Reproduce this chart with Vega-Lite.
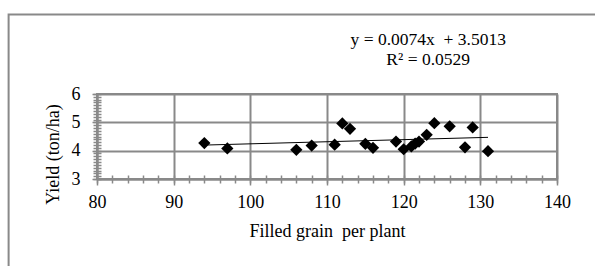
{
  "$schema": "https://vega.github.io/schema/vega-lite/v6.json",
  "width": 460,
  "height": 85,
  "autosize": {"type": "none"},
  "padding": {"left": 97, "top": 94, "right": 38, "bottom": 87},
  "background": "white",
  "datasets": {
    "points": [
      {"grain": 94, "yield": 4.27},
      {"grain": 97, "yield": 4.08},
      {"grain": 106, "yield": 4.03},
      {"grain": 108, "yield": 4.18},
      {"grain": 111, "yield": 4.21},
      {"grain": 112, "yield": 4.96},
      {"grain": 113, "yield": 4.77},
      {"grain": 115, "yield": 4.24},
      {"grain": 116, "yield": 4.1},
      {"grain": 119, "yield": 4.32},
      {"grain": 120, "yield": 4.05},
      {"grain": 121, "yield": 4.15},
      {"grain": 121.5, "yield": 4.25},
      {"grain": 122, "yield": 4.32},
      {"grain": 123, "yield": 4.56},
      {"grain": 124, "yield": 4.97},
      {"grain": 126, "yield": 4.86},
      {"grain": 128, "yield": 4.12},
      {"grain": 129, "yield": 4.82},
      {"grain": 131, "yield": 3.98}
    ],
    "trend": [
      {"grain": 94, "yield": 4.1969},
      {"grain": 131, "yield": 4.4707}
    ],
    "one": [{}]
  },
  "config": {
    "font": "Liberation Serif",
    "view": {"stroke": "#898989", "strokeWidth": 2},
    "axis": {
      "labelFont": "Liberation Serif",
      "titleFont": "Liberation Serif",
      "labelFontSize": 18,
      "titleFontSize": 18,
      "labelColor": "black",
      "titleColor": "black",
      "titleFontWeight": "normal",
      "labelFlush": false,
      "labelOverlap": false,
      "domainColor": "#898989",
      "domainWidth": 2,
      "tickColor": "#898989",
      "tickWidth": 1.5,
      "gridColor": "#898989",
      "gridWidth": 2,
      "gridOpacity": 1,
      "domainOpacity": 1,
      "tickOpacity": 1
    }
  },
  "layer": [
    {
      "data": {"name": "one"},
      "mark": {"type": "rect", "fillOpacity": 0, "stroke": "#898989", "strokeWidth": 2, "clip": false},
      "encoding": {
        "x": {"datum": 68.47, "type": "quantitative", "scale": {"domain": [80, 140], "nice": false, "zero": false}, "axis": null},
        "x2": {"datum": 150},
        "y": {"datum": 8.81, "type": "quantitative", "scale": {"domain": [3, 6], "nice": false, "zero": false}, "axis": null},
        "y2": {"datum": -2}
      }
    },
    {
      "data": {"name": "points"},
      "mark": {"type": "point", "shape": "diamond", "filled": true, "color": "black", "opacity": 1, "size": 150},
      "encoding": {
        "x": {
          "field": "grain", "type": "quantitative",
          "scale": {"domain": [80, 140], "nice": false, "zero": false},
          "axis": {"orient": "bottom", "values": [80, 90, 100, 110, 120, 130, 140], "title": "Filled grain\u00a0 per plant", "grid": true, "tickSize": 6, "labelPadding": 8, "titlePadding": 11}
        },
        "y": {
          "field": "yield", "type": "quantitative",
          "scale": {"domain": [3, 6], "nice": false, "zero": false},
          "axis": {"orient": "left", "values": [3, 4, 5, 6], "title": "Yield (ton/ha)", "grid": true, "tickSize": 5, "labelPadding": 12, "titlePadding": 9, "titleY": 60}
        }
      }
    },
    {
      "data": {"name": "trend"},
      "mark": {"type": "line", "color": "black", "strokeWidth": 1},
      "encoding": {
        "x": {
          "field": "grain", "type": "quantitative",
          "scale": {"domain": [80, 140], "nice": false, "zero": false},
          "axis": {"orient": "bottom", "values": [80, 82, 84, 86, 88, 90, 92, 94, 96, 98, 100, 102, 104, 106, 108, 110, 112, 114, 116, 118, 120, 122, 124, 126, 128, 130, 132, 134, 136, 138, 140], "offset": -4, "tickSize": 8, "labels": false, "domain": false, "grid": false, "title": null}
        },
        "y": {
          "field": "yield", "type": "quantitative",
          "scale": {"domain": [3, 6], "nice": false, "zero": false},
          "axis": {"orient": "left", "values": [3, 3.1, 3.2, 3.3, 3.4, 3.5, 3.6, 3.7, 3.8, 3.9, 4, 4.1, 4.2, 4.3, 4.4, 4.5, 4.6, 4.7, 4.8, 4.9, 5, 5.1, 5.2, 5.3, 5.4, 5.5, 5.6, 5.7, 5.8, 5.9, 6], "offset": -4, "tickSize": 8, "labels": false, "domain": false, "grid": false, "title": null}
        }
      }
    },
    {
      "data": {"name": "one"},
      "mark": {"type": "text", "font": "Liberation Serif", "fontSize": 17.5, "align": "center", "baseline": "middle", "lineHeight": 20, "color": "black", "clip": false},
      "encoding": {
        "x": {"datum": 123.2, "type": "quantitative", "scale": {"domain": [80, 140], "nice": false, "zero": false}, "axis": null},
        "y": {"datum": 7.9, "type": "quantitative", "scale": {"domain": [3, 6], "nice": false, "zero": false}, "axis": null},
        "text": {"value": ["y = 0.0074x\u00a0 + 3.5013", "R² = 0.0529"]}
      }
    }
  ],
  "resolve": {"axis": {"x": "independent", "y": "independent"}}
}
